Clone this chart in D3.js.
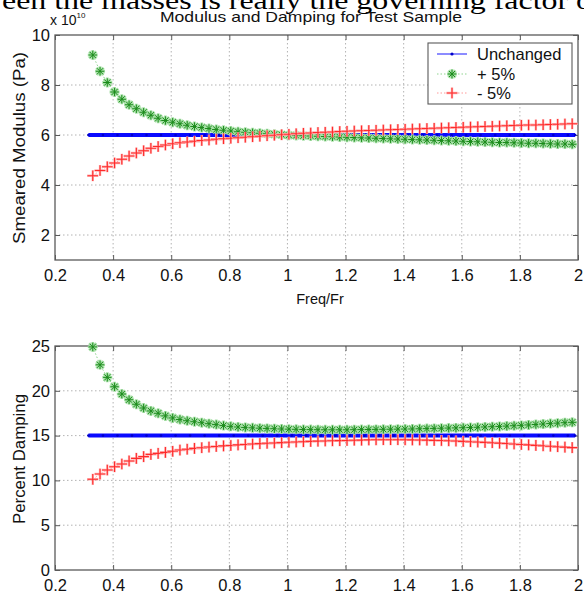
<!DOCTYPE html>
<html>
<head>
<meta charset="utf-8">
<script src="https://cdn.jsdelivr.net/npm/d3@7"></script>
<style>
  html, body { margin: 0; padding: 0; background: #fff; }
  svg { display: block; }
  text { font-family: "Liberation Sans", Arial, sans-serif; }
</style>
</head>
<body>
<svg id="chart" width="584" height="597"></svg>
<script>
// ---------------- DATA ----------------
const xTicks = [0.2, 0.4, 0.6, 0.8, 1, 1.2, 1.4, 1.6, 1.8, 2];
const modTicks = [2, 4, 6, 8, 10];
const dampTicks = [0, 5, 10, 15, 20, 25];
const seriesNames = ["Unchanged", "+ 5%", "- 5%"];

const freqRatio = [0.33,0.355,0.38,0.405,0.43,0.455,0.48,0.505,0.53,0.555,0.58,0.605,0.63,0.655,0.68,0.705,0.73,0.755,0.78,0.805,0.83,0.855,0.88,0.905,0.93,0.955,0.98,1.005,1.03,1.055,1.08,1.105,1.13,1.155,1.18,1.205,1.23,1.255,1.28,1.305,1.33,1.355,1.38,1.405,1.43,1.455,1.48,1.505,1.53,1.555,1.58,1.605,1.63,1.655,1.68,1.705,1.73,1.755,1.78,1.805,1.83,1.855,1.88,1.905,1.93,1.955,1.98];

const freqRatioUnchanged = [0.315,0.365,0.415,0.465,0.515,0.565,0.615,0.665,0.715,0.765,0.815,0.865,0.915,0.965,1.015,1.065,1.115,1.165,1.215,1.265,1.315,1.365,1.415,1.465,1.515,1.565,1.615,1.665,1.715,1.765,1.815,1.865,1.915,1.965,1.99];

const modUnchanged = [6,6,6,6,6,6,6,6,6,6,6,6,6,6,6,6,6,6,6,6,6,6,6,6,6,6,6,6,6,6,6,6,6,6,6];
const dampUnchanged = [15,15,15,15,15,15,15,15,15,15,15,15,15,15,15,15,15,15,15,15,15,15,15,15,15,15,15,15,15,15,15,15,15,15,15];

const modPlus = [9.2,8.55,8.1,7.72,7.43,7.21,7.05,6.91,6.79,6.67,6.58,6.51,6.45,6.39,6.34,6.3,6.26,6.22,6.19,6.16,6.13,6.11,6.09,6.07,6.05,6.03,6.01,5.99,5.98,5.97,5.96,5.95,5.94,5.93,5.92,5.91,5.9,5.89,5.88,5.87,5.86,5.85,5.84,5.83,5.82,5.81,5.8,5.79,5.78,5.77,5.76,5.75,5.74,5.73,5.72,5.71,5.7,5.7,5.69,5.68,5.67,5.67,5.66,5.65,5.64,5.64,5.63];

const modMinus = [4.37,4.58,4.73,4.88,5.03,5.16,5.28,5.37,5.47,5.54,5.6,5.65,5.69,5.72,5.75,5.78,5.8,5.83,5.85,5.87,5.89,5.91,5.93,5.95,5.97,5.99,6.01,6.03,6.05,6.07,6.08,6.1,6.11,6.12,6.14,6.15,6.16,6.17,6.18,6.19,6.2,6.21,6.22,6.23,6.24,6.25,6.26,6.27,6.28,6.29,6.3,6.31,6.32,6.33,6.34,6.35,6.36,6.37,6.38,6.39,6.4,6.4,6.41,6.42,6.43,6.44,6.45];

const dampPlus = [24.9,22.9,21.5,20.45,19.64,19.0,18.5,18.08,17.75,17.49,17.2,16.97,16.8,16.66,16.55,16.44,16.33,16.23,16.12,16.03,15.96,15.91,15.87,15.83,15.8,15.77,15.74,15.72,15.7,15.68,15.67,15.66,15.65,15.65,15.65,15.65,15.66,15.67,15.68,15.69,15.7,15.71,15.72,15.73,15.74,15.76,15.78,15.8,15.82,15.84,15.86,15.88,15.9,15.93,15.96,15.99,16.02,16.06,16.1,16.14,16.19,16.24,16.29,16.34,16.39,16.44,16.48];

const dampMinus = [10.12,10.71,11.16,11.53,11.83,12.17,12.46,12.65,12.91,13.02,13.13,13.25,13.39,13.48,13.57,13.65,13.72,13.79,13.85,13.9,13.96,14.01,14.06,14.1,14.14,14.18,14.22,14.26,14.29,14.32,14.35,14.38,14.4,14.42,14.44,14.46,14.48,14.5,14.52,14.53,14.54,14.54,14.54,14.53,14.52,14.51,14.49,14.47,14.45,14.42,14.39,14.36,14.32,14.28,14.24,14.2,14.16,14.11,14.06,14.01,13.96,13.91,13.86,13.81,13.76,13.71,13.66];

// ---------------- DRAW ----------------
const svg = d3.select("#chart");
const L = 55, R = 578;
const axisColor = "#5a5a5a";

// clipped body text above the figure
svg.append("text")
  .attr("x", 2).attr("y", 9)
  .attr("textLength", 590).attr("lengthAdjust", "spacingAndGlyphs")
  .style("font-family", "'Liberation Serif', 'Times New Roman', serif")
  .style("font-size", "25px").attr("fill", "#000")
  .text("een the masses is really the governing factor o");

function asterisk(r) {
  const d = r * 0.72;
  return `M${-r},0H${r}M0,${-r}V${r}M${-d},${-d}L${d},${d}M${-d},${d}L${d},${-d}`;
}
function plus(r) {
  return `M${-r},0H${r}M0,${-r}V${r}`;
}

function panel(cfg) {
  const x = d3.scaleLinear().domain([0.2, 2]).range([L, R]);
  const y = d3.scaleLinear().domain(cfg.yDomain).range([cfg.bottom, cfg.top]);
  const g = svg.append("g");

  // grid
  g.append("g").selectAll("line").data(xTicks.slice(1, -1)).join("line")
    .attr("x1", d => x(d)).attr("x2", d => x(d))
    .attr("y1", cfg.top).attr("y2", cfg.bottom)
    .attr("stroke", "#a0a0a0").attr("stroke-width", 0.8).attr("stroke-dasharray", "1.5,2.5");
  g.append("g").selectAll("line").data(cfg.yTicks.filter(v => v > cfg.yDomain[0] && v < cfg.yDomain[1])).join("line")
    .attr("x1", L).attr("x2", R)
    .attr("y1", d => y(d)).attr("y2", d => y(d))
    .attr("stroke", "#a0a0a0").attr("stroke-width", 0.8).attr("stroke-dasharray", "1.5,2.5");

  // box
  g.append("rect").attr("x", L).attr("y", cfg.top).attr("width", R - L).attr("height", cfg.bottom - cfg.top)
    .attr("fill", "none").attr("stroke", axisColor).attr("stroke-width", 1.3);

  // ticks (inside, both sides)
  const axB = d3.axisBottom(x).tickValues(xTicks).tickSizeInner(-5).tickSizeOuter(0).tickFormat(d => String(d));
  const gb = g.append("g").attr("transform", `translate(0,${cfg.bottom})`).call(axB);
  const axT = d3.axisTop(x).tickValues(xTicks).tickSizeInner(-5).tickSizeOuter(0).tickFormat("");
  const gt = g.append("g").attr("transform", `translate(0,${cfg.top})`).call(axT);
  const axL = d3.axisLeft(y).tickValues(cfg.yTicks).tickSizeInner(-5).tickSizeOuter(0).tickFormat(d => String(d));
  const gl = g.append("g").attr("transform", `translate(${L},0)`).call(axL);
  const axR = d3.axisRight(y).tickValues(cfg.yTicks).tickSizeInner(-5).tickSizeOuter(0).tickFormat("");
  const gr = g.append("g").attr("transform", `translate(${R},0)`).call(axR);
  [gb, gt, gl, gr].forEach(a => {
    a.select(".domain").remove();
    a.selectAll(".tick line").attr("stroke", axisColor).attr("stroke-width", 1);
    a.selectAll(".tick text").attr("fill", "#111").style("font-size", "16.5px")
      .style("font-family", "'Liberation Sans', Arial, sans-serif");
  });
  gb.selectAll(".tick text").attr("dy", "0.71em").attr("y", 9);
  gl.selectAll(".tick text").attr("x", -5);

  // series: unchanged
  const lineU = d3.line().x((d, i) => x(cfg.xu[i])).y(d => y(d));
  g.append("path").datum(cfg.unchanged).attr("d", lineU)
    .attr("fill", "none").attr("stroke", "#0a0aff").attr("stroke-width", 4);
  g.append("g").selectAll("circle").data(cfg.unchanged).join("circle")
    .attr("cx", (d, i) => x(cfg.xu[i])).attr("cy", d => y(d)).attr("r", 1.3).attr("fill", "#0000c8");

  const line = d3.line().x((d, i) => x(freqRatio[i])).y(d => y(d));

  // + 5%
  g.append("path").datum(cfg.plus).attr("d", line).attr("fill", "none")
    .attr("stroke", "#8fd48f").attr("stroke-width", 1).attr("stroke-dasharray", "1.5,2");
  const gp = g.append("g").selectAll("g").data(cfg.plus).join("g")
    .attr("transform", (d, i) => `translate(${x(freqRatio[i])},${y(d)})`);
  gp.append("path").attr("d", asterisk(5)).attr("stroke", "#a8e0a8").attr("stroke-width", 2.8).attr("fill", "none");
  gp.append("path").attr("d", asterisk(4.2)).attr("stroke", "#1c8c1c").attr("stroke-width", 1).attr("fill", "none");

  // - 5%
  g.append("path").datum(cfg.minus).attr("d", line).attr("fill", "none")
    .attr("stroke", "#ff9a9a").attr("stroke-width", 1).attr("stroke-dasharray", "1.5,2");
  const gm = g.append("g").selectAll("g").data(cfg.minus).join("g")
    .attr("transform", (d, i) => `translate(${x(freqRatio[i])},${y(d)})`);
  gm.append("path").attr("d", plus(5.6)).attr("stroke", "#ffb4b4").attr("stroke-width", 2.4).attr("fill", "none");
  gm.append("path").attr("d", plus(5.3)).attr("stroke", "#ff2a2a").attr("stroke-width", 1.1).attr("fill", "none");

  return { x, y, g };
}

// top panel
panel({ top: 35, bottom: 260, yDomain: [1, 10], yTicks: modTicks,
        xu: freqRatioUnchanged, unchanged: modUnchanged, plus: modPlus, minus: modMinus });
// bottom panel
panel({ top: 346, bottom: 570, yDomain: [0, 25], yTicks: dampTicks,
        xu: freqRatioUnchanged, unchanged: dampUnchanged, plus: dampPlus, minus: dampMinus });

// titles / labels
svg.append("text").attr("x", 160).attr("y", 22)
  .attr("textLength", 302).attr("lengthAdjust", "spacingAndGlyphs")
  .style("font-size", "15px").attr("fill", "#111").text("Modulus and Damping for Test Sample");
const exp = svg.append("text").attr("x", 50).attr("y", 25).style("font-size", "14px").attr("fill", "#111");
exp.append("tspan").text("x 10");
exp.append("tspan").attr("dy", -7).style("font-size", "8px").text("10");

svg.append("text").attr("x", 320).attr("y", 304).attr("text-anchor", "middle")
  .style("font-size", "14.5px").attr("fill", "#111").text("Freq/Fr");
svg.append("text").attr("transform", "translate(25,148) rotate(-90)").attr("text-anchor", "middle")
  .attr("textLength", 192).attr("lengthAdjust", "spacingAndGlyphs")
  .style("font-size", "16px").attr("fill", "#111").text("Smeared Modulus (Pa)");
svg.append("text").attr("transform", "translate(25,459) rotate(-90)").attr("text-anchor", "middle")
  .attr("textLength", 130).attr("lengthAdjust", "spacingAndGlyphs")
  .style("font-size", "16px").attr("fill", "#111").text("Percent Damping");

// legend
const lg = svg.append("g");
lg.append("rect").attr("x", 428).attr("y", 43).attr("width", 144).attr("height", 61)
  .attr("fill", "#fff").attr("stroke", axisColor).attr("stroke-width", 1.1);
const ly = [54, 74, 93];
// unchanged
lg.append("line").attr("x1", 437).attr("x2", 467).attr("y1", ly[0]).attr("y2", ly[0])
  .attr("stroke", "#8c8cff").attr("stroke-width", 2);
lg.append("circle").attr("cx", 452).attr("cy", ly[0]).attr("r", 1.6).attr("fill", "#0000c8");
// plus
lg.append("line").attr("x1", 437).attr("x2", 467).attr("y1", ly[1]).attr("y2", ly[1])
  .attr("stroke", "#8fd48f").attr("stroke-width", 1).attr("stroke-dasharray", "1.5,2");
lg.append("path").attr("transform", `translate(452,${ly[1]})`).attr("d", asterisk(5))
  .attr("stroke", "#a8e0a8").attr("stroke-width", 2.8).attr("fill", "none");
lg.append("path").attr("transform", `translate(452,${ly[1]})`).attr("d", asterisk(4.2))
  .attr("stroke", "#1c8c1c").attr("stroke-width", 1).attr("fill", "none");
// minus
lg.append("line").attr("x1", 437).attr("x2", 467).attr("y1", ly[2]).attr("y2", ly[2])
  .attr("stroke", "#ff9a9a").attr("stroke-width", 1).attr("stroke-dasharray", "1.5,2");
lg.append("path").attr("transform", `translate(452,${ly[2]})`).attr("d", plus(5.6))
  .attr("stroke", "#ffb4b4").attr("stroke-width", 2.4).attr("fill", "none");
lg.append("path").attr("transform", `translate(452,${ly[2]})`).attr("d", plus(5.3))
  .attr("stroke", "#ff2a2a").attr("stroke-width", 1.1).attr("fill", "none");
lg.selectAll("text.leg").data(seriesNames).join("text").attr("class", "leg")
  .attr("x", 477).attr("y", (d, i) => ly[i]).attr("dy", "0.35em")
  .style("font-size", "16.5px").attr("fill", "#111").text(d => d);
</script>
</body>
</html>
